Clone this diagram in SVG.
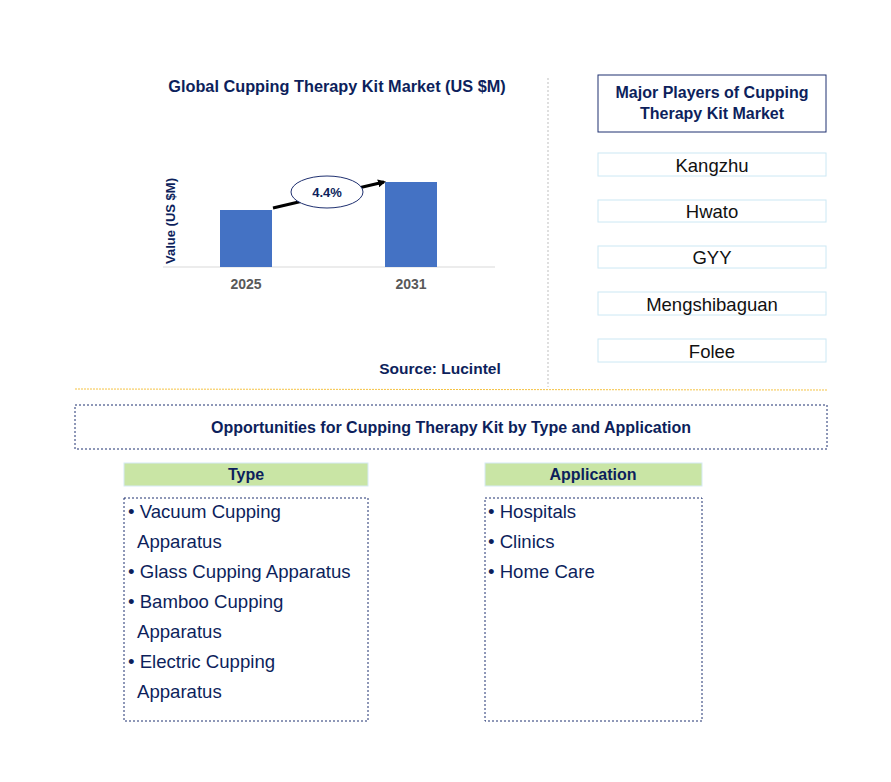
<svg xmlns="http://www.w3.org/2000/svg" width="891" height="782" viewBox="0 0 891 782">
<defs>
<style>
text{font-family:"Liberation Sans",Arial,sans-serif;fill:#0d1f5c}
.b{font-weight:bold}
.pl rect{fill:#fff;stroke:#cce8f4;stroke-width:1}
.pl text{font-size:18.5px;text-anchor:middle;fill:#111}
.hd{fill:#c9e5a5;stroke:#d6eaf5}
.ls{fill:#fff;stroke:#1f3070;stroke-dasharray:2,2}
.it{font-size:18.6px}
</style>
<marker id="ah" markerWidth="8" markerHeight="8" refX="6" refY="4" orient="auto" markerUnits="userSpaceOnUse"><path d="M0,0L8,4L0,8z" fill="#000"/></marker>
</defs>
<rect width="891" height="782" fill="#fff"/>
<g id="chart">
<text x="337" y="92" class="b" font-size="16.3" text-anchor="middle">Global Cupping Therapy Kit Market (US $M)</text>
<text transform="translate(175,221) rotate(-90)" class="b" font-size="13" text-anchor="middle">Value (US $M)</text>
<line x1="163" y1="267" x2="495" y2="267" stroke="#d9d9d9"/>
<rect x="220" y="210" width="52" height="57" fill="#4472c4"/>
<rect x="385" y="182" width="52" height="85" fill="#4472c4"/>
<text x="246" y="289" class="b" font-size="14" text-anchor="middle" style="fill:#595959">2025</text>
<text x="411" y="289" class="b" font-size="14" text-anchor="middle" style="fill:#595959">2031</text>
<text x="440" y="374" class="b" font-size="15.5" text-anchor="middle">Source: Lucintel</text>
</g>
<g id="connectors">
<line x1="273" y1="208" x2="384" y2="182" stroke="#000" stroke-width="3" marker-end="url(#ah)"/>
<line x1="548" y1="78" x2="548" y2="387" stroke="#bfbfbf" stroke-dasharray="2,2"/>
<line x1="75" y1="389" x2="827" y2="390" stroke="#f5c242" stroke-dasharray="2,1"/>
</g>
<g id="cagr">
<ellipse cx="327" cy="192" rx="36" ry="16" fill="#fff" stroke="#1f3070"/>
<text x="327" y="197" class="b" font-size="13" text-anchor="middle">4.4%</text>
</g>
<g id="players-title">
<rect x="598" y="75" width="228" height="57" fill="#fff" stroke="#1f3070"/>
<text x="712" y="98" class="b" font-size="16" text-anchor="middle">Major Players of Cupping</text>
<text x="712" y="119" class="b" font-size="16" text-anchor="middle">Therapy Kit Market</text>
</g>
<g id="p1" class="pl"><rect x="598" y="153" width="228" height="23"/><text x="712" y="172">Kangzhu</text></g>
<g id="p2" class="pl"><rect x="598" y="200" width="228" height="22"/><text x="712" y="218">Hwato</text></g>
<g id="p3" class="pl"><rect x="598" y="246" width="228" height="22"/><text x="712" y="264">GYY</text></g>
<g id="p4" class="pl"><rect x="598" y="292" width="228" height="23"/><text x="712" y="311">Mengshibaguan</text></g>
<g id="p5" class="pl"><rect x="598" y="339" width="228" height="23"/><text x="712" y="358">Folee</text></g>
<g id="opp">
<rect x="75" y="405" width="752" height="44" fill="#fff" stroke="#1f3070" stroke-dasharray="2,2"/>
<text x="451" y="433" class="b" font-size="16" text-anchor="middle">Opportunities for Cupping Therapy Kit by Type and Application</text>
</g>
<g id="type">
<rect x="124" y="463" width="244" height="23" class="hd"/>
<text x="246" y="480" class="b" font-size="16" text-anchor="middle">Type</text>
<rect x="124" y="498" width="244" height="223" class="ls"/>
<text class="it"><tspan x="128" y="518">• Vacuum Cupping</tspan><tspan x="137" y="548">Apparatus</tspan><tspan x="128" y="578">• Glass Cupping Apparatus</tspan><tspan x="128" y="608">• Bamboo Cupping</tspan><tspan x="137" y="638">Apparatus</tspan><tspan x="128" y="668">• Electric Cupping</tspan><tspan x="137" y="698">Apparatus</tspan></text>
</g>
<g id="app">
<rect x="485" y="463" width="217" height="23" class="hd"/>
<text x="593" y="480" class="b" font-size="16" text-anchor="middle">Application</text>
<rect x="485" y="498" width="217" height="223" class="ls"/>
<text class="it"><tspan x="488" y="518">• Hospitals</tspan><tspan x="488" y="548">• Clinics</tspan><tspan x="488" y="578">• Home Care</tspan></text>
</g>
</svg>
